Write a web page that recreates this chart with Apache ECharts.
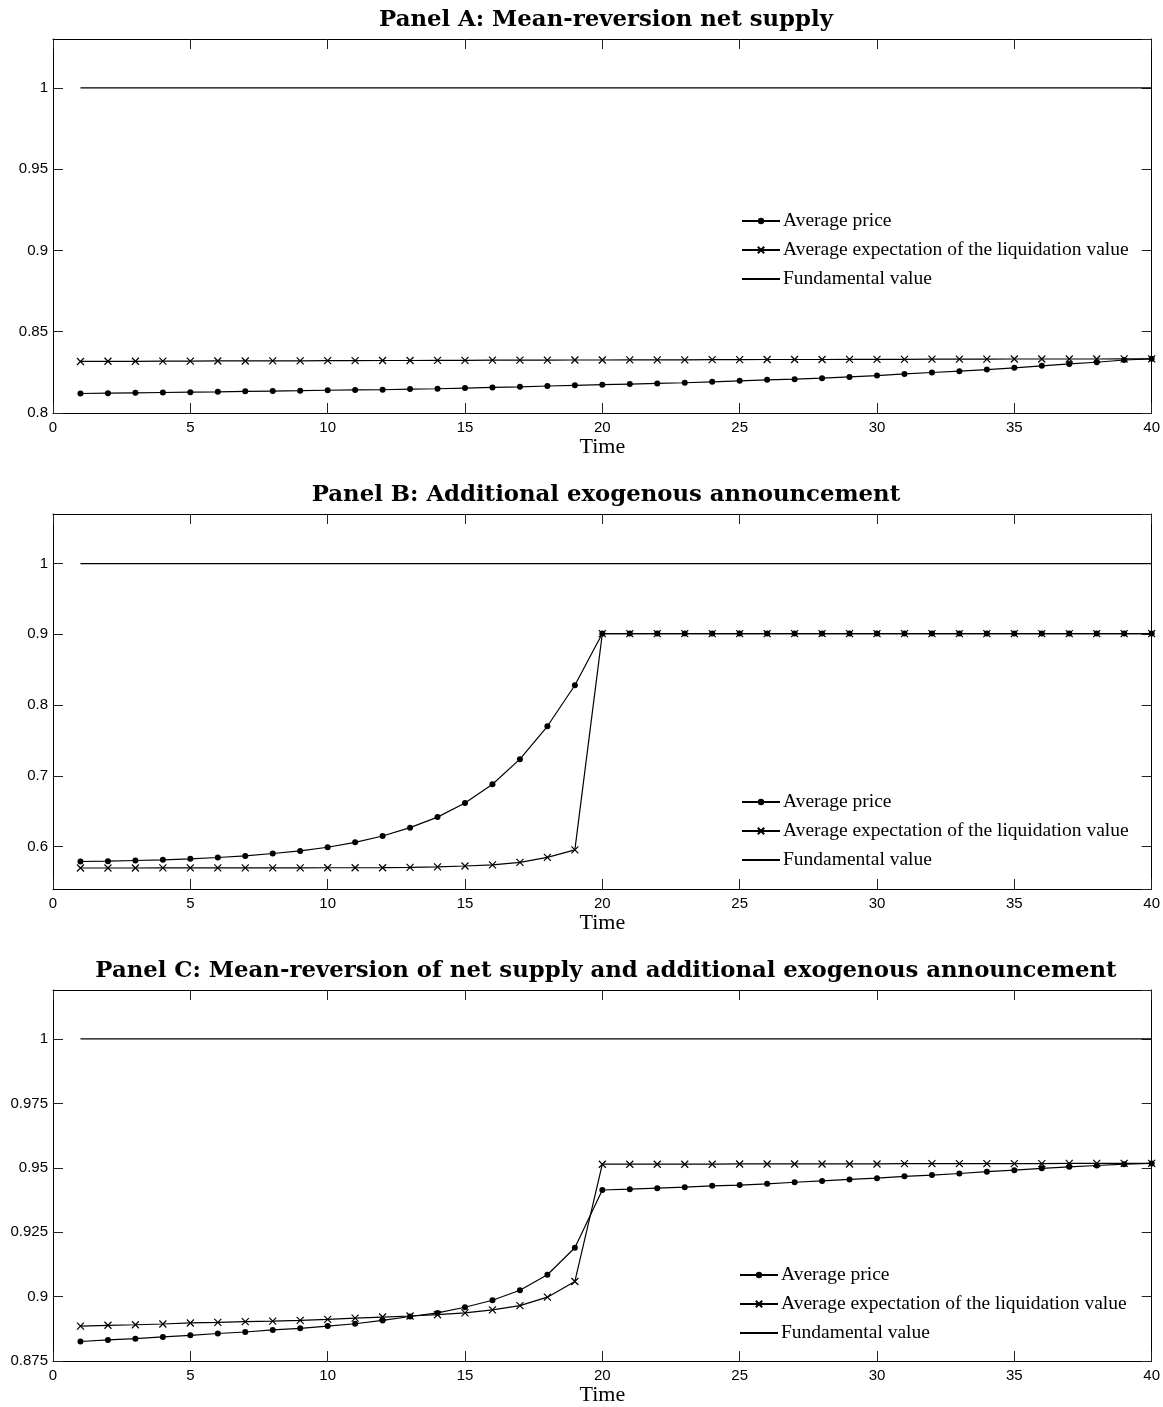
<!DOCTYPE html>
<html>
<head>
<meta charset="utf-8">
<script src="https://cdn.jsdelivr.net/npm/echarts@6/dist/echarts.min.js"></script>
<style>
  html, body { margin: 0; padding: 0; background: #fff; }
  #chart { width: 1163px; height: 1407px; }
</style>
</head>
<body>
<div id="chart"></div>
<script>
const time = [1, 2, 3, 4, 5, 6, 7, 8, 9, 10, 11, 12, 13, 14, 15, 16, 17, 18, 19, 20,
  21, 22, 23, 24, 25, 26, 27, 28, 29, 30, 31, 32, 33, 34, 35, 36, 37, 38, 39, 40]

const fundamental = [1, 1, 1, 1, 1, 1, 1, 1, 1, 1, 1, 1, 1, 1, 1, 1, 1, 1, 1, 1,
  1, 1, 1, 1, 1, 1, 1, 1, 1, 1, 1, 1, 1, 1, 1, 1, 1, 1, 1, 1]

// Panel A
const priceA = [0.8120, 0.8122, 0.8124, 0.8126, 0.8128, 0.8130, 0.8133, 0.8135, 0.8137, 0.8140,
  0.8142, 0.8143, 0.8147, 0.8149, 0.8153, 0.8157, 0.8161, 0.8166, 0.8170, 0.8174,
  0.8178, 0.8182, 0.8186, 0.8192, 0.8198, 0.8204, 0.8208, 0.8214, 0.8222, 0.8230,
  0.8240, 0.8249, 0.8257, 0.8267, 0.8278, 0.8290, 0.8302, 0.8312, 0.8326, 0.8333]
const expectA = [0.8317, 0.8318, 0.8318, 0.8319, 0.8319, 0.8320, 0.8320, 0.8321, 0.8321, 0.8322,
  0.8322, 0.8323, 0.8323, 0.8324, 0.8324, 0.8325, 0.8325, 0.8325, 0.8326, 0.8326,
  0.8327, 0.8327, 0.8327, 0.8328, 0.8328, 0.8329, 0.8329, 0.8329, 0.8330, 0.8330,
  0.8330, 0.8331, 0.8331, 0.8331, 0.8332, 0.8332, 0.8332, 0.8332, 0.8333, 0.8333]

// Panel B
const priceB = [0.5789, 0.5793, 0.5803, 0.5812, 0.5826, 0.5845, 0.5868, 0.5902, 0.5938, 0.5990,
  0.6060, 0.6149, 0.6267, 0.6416, 0.6615, 0.6880, 0.7235, 0.7700, 0.8280, 0.9010,
  0.9010, 0.9010, 0.9010, 0.9010, 0.9010, 0.9010, 0.9010, 0.9010, 0.9010, 0.9010,
  0.9010, 0.9010, 0.9010, 0.9010, 0.9010, 0.9010, 0.9010, 0.9010, 0.9010, 0.9010]
const expectB = [0.5697, 0.5697, 0.5697, 0.5698, 0.5698, 0.5698, 0.5699, 0.5699, 0.5699, 0.5700,
  0.5700, 0.5701, 0.5705, 0.5712, 0.5725, 0.5742, 0.5776, 0.5846, 0.5954, 0.9010,
  0.9010, 0.9010, 0.9010, 0.9010, 0.9010, 0.9010, 0.9010, 0.9010, 0.9010, 0.9010,
  0.9010, 0.9010, 0.9010, 0.9010, 0.9010, 0.9010, 0.9010, 0.9010, 0.9010, 0.9010]

// Panel C
const priceC = [0.8826, 0.8832, 0.8837, 0.8844, 0.8850, 0.8857, 0.8863, 0.8871, 0.8877, 0.8886,
  0.8895, 0.8908, 0.8923, 0.8937, 0.8959, 0.8986, 0.9025, 0.9085, 0.9190, 0.9414,
  0.9417, 0.9421, 0.9425, 0.9430, 0.9433, 0.9438, 0.9444, 0.9449, 0.9455, 0.9460,
  0.9467, 0.9472, 0.9478, 0.9485, 0.9491, 0.9498, 0.9504, 0.9509, 0.9514, 0.9517]
const expectC = [0.8886, 0.8889, 0.8891, 0.8894, 0.8898, 0.8900, 0.8903, 0.8905, 0.8908, 0.8912,
  0.8917, 0.8921, 0.8925, 0.8930, 0.8937, 0.8949, 0.8965, 0.8998, 0.9059, 0.9514,
  0.9514, 0.9514, 0.9514, 0.9514, 0.9515, 0.9515, 0.9515, 0.9515, 0.9515, 0.9515,
  0.9516, 0.9516, 0.9516, 0.9516, 0.9516, 0.9516, 0.9517, 0.9517, 0.9517, 0.9517]

const panelTitles = [
  'Panel A: Mean-reversion net supply',
  'Panel B: Additional exogenous announcement',
  'Panel C: Mean-reversion of net supply and additional exogenous announcement'
]
const seriesNames = ['Average price', 'Average expectation of the liquidation value', 'Fundamental value']

const panels = [
  { price: priceA, expect: expectA, yMin: 0.8, yMax: 1.03, interval: 0.05, top: 39, height: 374, legendTop: 211, legendLeft: 741 },
  { price: priceB, expect: expectB, yMin: 0.54, yMax: 1.07, interval: null, top: 514, height: 375, legendTop: 792, legendLeft: 741 },
  { price: priceC, expect: expectC, yMin: 0.875, yMax: 1.019, interval: 0.025, top: 990, height: 376, legendTop: 1265, legendLeft: 739 }
]

const SANS = '"Liberation Sans", Arial, sans-serif'
const SERIF = '"Liberation Serif", serif'
const TITLE_FONT = '"DejaVu Serif", serif'
const CROSS = 'path://M0,0L10,10M10,0L0,10'

const axisLine = { show: true, onZero: false, lineStyle: { color: '#000', width: 1 } }
const tick = { show: true, inside: true, length: 10, lineStyle: { color: '#222', width: 1 } }

const grid = [], xAxis = [], yAxis = [], series = [], title = [], legend = []

panels.forEach((p, i) => {
  grid.push({ left: 53, width: 1100, top: p.top, height: p.height })

  // bottom + top x axes
  xAxis.push({
    type: 'value', gridIndex: i, position: 'bottom', min: 0, max: 40, interval: 5,
    axisLine, axisTick: tick, splitLine: { show: false },
    axisLabel: { color: '#000', fontFamily: SANS, fontSize: 15, margin: 7 },
    name: 'Time', nameLocation: 'middle', nameGap: 20,
    nameTextStyle: { color: '#000', fontFamily: SERIF, fontSize: 22, verticalAlign: 'top' }
  })
  xAxis.push({
    type: 'value', gridIndex: i, position: 'top', min: 0, max: 40, interval: 5,
    axisLine, axisTick: tick, axisLabel: { show: false }, splitLine: { show: false }
  })

  const yCommon = {
    type: 'value', gridIndex: i, min: p.yMin, max: p.yMax,
    axisLine, axisTick: tick, splitLine: { show: false }
  }
  if (p.interval) {
    yCommon.interval = p.interval
  } else {
    yCommon.splitNumber = 5
    yCommon.minInterval = 0.1
    yCommon.maxInterval = 0.1
  }
  yAxis.push(Object.assign({}, yCommon, {
    position: 'left',
    axisLabel: {
      color: '#000', fontFamily: SANS, fontSize: 15, margin: 5,
      showMinLabel: p.interval ? true : false, showMaxLabel: false
    }
  }))
  yAxis.push(Object.assign({}, yCommon, { position: 'right', axisLabel: { show: false } }))

  title.push({
    text: panelTitles[i], left: 601, top: p.top - 35, textAlign: 'center',
    textStyle: { fontFamily: TITLE_FONT, fontWeight: 'bold', fontSize: 22.8, color: '#000' }
  })

  legend.push({
    data: [
      { name: seriesNames[0] },
      { name: seriesNames[1] },
      { name: seriesNames[2], itemStyle: { color: 'rgba(0,0,0,0)', borderWidth: 0, opacity: 0 } }
    ],
    orient: 'vertical', left: p.legendLeft, top: p.legendTop,
    padding: 0, itemWidth: 38, itemHeight: 8, itemGap: 9, selectedMode: false,
    textStyle: { fontFamily: SERIF, fontSize: 19.5, color: '#000', padding: [0, 0, 0, -2] }
  })

  const pair = (arr) => time.map((t, k) => [t, arr[k]])

  series.push({
    name: seriesNames[0], type: 'line', xAxisIndex: 2 * i, yAxisIndex: 2 * i,
    data: pair(p.price), symbol: 'circle', symbolSize: 6, showSymbol: true,
    lineStyle: { color: '#000', width: 1.2 }, itemStyle: { color: '#000' },
    animation: false, silent: true
  })
  series.push({
    name: seriesNames[1], type: 'line', xAxisIndex: 2 * i, yAxisIndex: 2 * i,
    data: pair(p.expect), symbol: CROSS, symbolSize: 7, showSymbol: true,
    lineStyle: { color: '#000', width: 1.2 },
    itemStyle: { color: '#000', borderColor: '#000', borderWidth: 1.2 },
    animation: false, silent: true
  })
  series.push({
    name: seriesNames[2], type: 'line', xAxisIndex: 2 * i, yAxisIndex: 2 * i,
    data: pair(fundamental), symbol: 'none', showSymbol: false,
    lineStyle: { color: '#000', width: 1.2 }, itemStyle: { color: '#000' },
    animation: false, silent: true
  })
})

const chart = echarts.init(document.getElementById('chart'), null, { renderer: 'canvas' })
chart.setOption({
  backgroundColor: '#fff',
  animation: false,
  title, legend, grid, xAxis, yAxis, series
})
window.addEventListener('resize', () => chart.resize())
</script>
</body>
</html>
